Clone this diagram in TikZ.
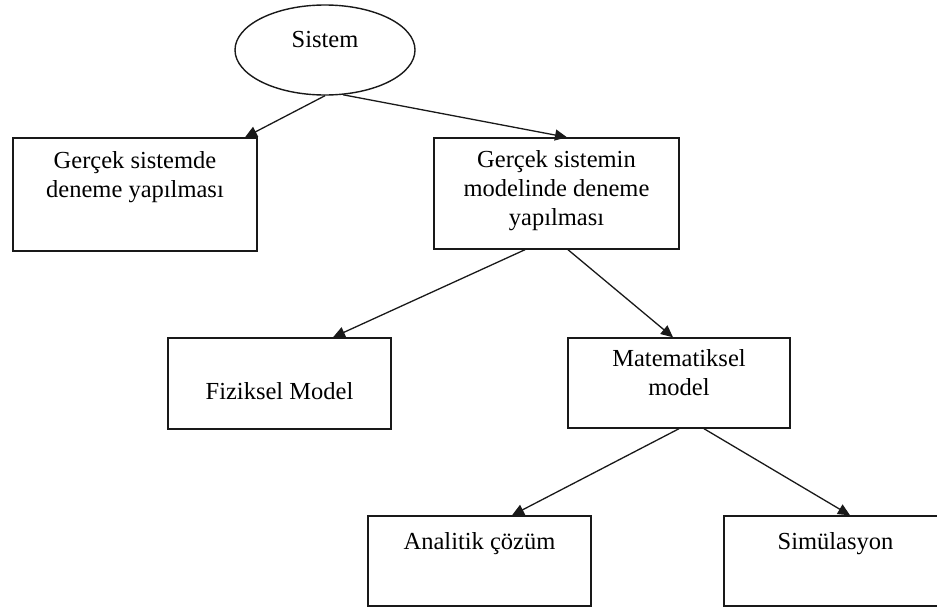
\documentclass[tikz,border=0pt]{standalone}
\usepackage{fontspec}
\setmainfont{Liberation Serif}
\usetikzlibrary{shapes.geometric,arrows.meta}

\begin{document}
\begin{tikzpicture}[x=1pt,y=-1pt,
  frame/.style={draw=black!90, line width=1.4pt, rectangle, inner sep=0pt},
  oval/.style={draw=black!90, line width=1.4pt, ellipse, inner sep=0pt,
    minimum width=180pt, minimum height=90pt},
  caption/.style={inner sep=0pt, anchor=north, align=center,
    font=\fontsize{24.5pt}{29pt}\selectfont, execute at begin node={\strut}},
  link/.style={draw=black!90, line width=1.3pt,
    -{Triangle[length=12pt,width=11pt]}}]
\useasboundingbox (0,0) rectangle (937,608);

% shapes
\node[oval] (sys) at (325,50) {};
\node[frame, minimum width=244pt, minimum height=113pt] (real) at (135,194.5) {};
\node[frame, minimum width=245pt, minimum height=111pt] (mod) at (556.5,193.5) {};
\node[frame, minimum width=223pt, minimum height=91pt] (phys) at (279.5,383.5) {};
\node[frame, minimum width=222pt, minimum height=90pt] (math) at (679,383) {};
\node[frame, minimum width=223pt, minimum height=90pt] (anal) at (479.5,561) {};
\node[frame, minimum width=223pt, minimum height=90pt] (sim) at (835.5,561) {};

% texts
\node[caption] (tsys) at ([yshift=-22.7pt]sys.north) {Sistem};
\node[caption] (treal) at ([yshift=-13.7pt]real.north) {Gerçek sistemde\\deneme yapılması};
\node[caption] (tmod) at ([yshift=-12.7pt]mod.north) {Gerçek sistemin\\modelinde deneme\\yapılması};
\node[caption] (tphys) at ([yshift=-41.7pt]phys.north) {Fiziksel Model};
\node[caption] (tmath) at ([yshift=-11.7pt]math.north) {Matematiksel\\model};
\node[caption] (tanal) at ([yshift=-13.7pt]anal.north) {Analitik çözüm};
\node[caption] (tsim) at ([yshift=-13.7pt]sim.north) {Simülasyon};

% connectors
\draw[link] (sys.south) -- ([xshift=110pt]real.north);
\draw[link] (sys.-68) -- ([xshift=10.5pt]mod.north);
\draw[link] ([xshift=-31.5pt]mod.south) -- ([xshift=53.5pt]phys.north);
\draw[link] ([xshift=11.5pt]mod.south) -- ([xshift=-6pt]math.north);
\draw[link] (math.south) -- ([xshift=32.5pt]anal.north);
\draw[link] ([xshift=25pt]math.south) -- ([xshift=14.5pt]sim.north);
\end{tikzpicture}
\end{document}
